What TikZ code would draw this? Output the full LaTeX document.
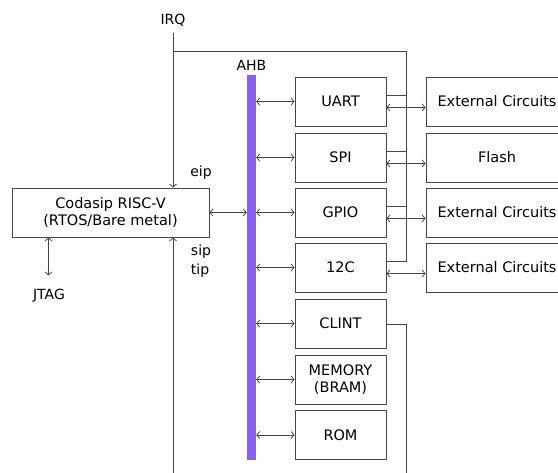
\documentclass[tikz,border=0pt]{standalone}
\usepackage{fontspec}
\setmainfont{DejaVu Sans}
\usetikzlibrary{arrows.meta}
\definecolor{busc}{RGB}{139,92,246}
\definecolor{linec}{RGB}{70,70,70}
\begin{document}
\begin{tikzpicture}[x=1pt,y=-1pt,
  box/.style={draw=linec,line width=0.8pt,minimum height=49pt,inner sep=0pt,align=center,font=\fontsize{14.5}{17.5}\selectfont},
  per/.style={box,minimum width=91pt},
  ext/.style={box,minimum width=142pt},
  lbl/.style={inner sep=0pt,font=\fontsize{14}{19}\selectfont},
  conn/.style={draw=linec,line width=0.8pt},
  dbl/.style={conn,{Straight Barb[length=3pt,width=7pt]}-{Straight Barb[length=3pt,width=7pt]}},
  one/.style={conn,-{Straight Barb[length=3pt,width=7pt]}}]
\useasboundingbox (0,0) rectangle (558,473);
\clip (0,0) rectangle (558,473);
% bus
\node[fill=busc,minimum width=9pt,minimum height=385pt,inner sep=0pt] (bus) at (251.5,267.5) {};
\node[lbl] (ahb) at (251.5,65) {AHB};
% CPU
\node[box,minimum width=197pt] (cpu) at (110.5,212.5) {Codasip RISC-V\\(RTOS/Bare metal)};
% peripherals
\node[per] (uart) at (340.5,101.5) {UART};
\node[per] (spi) at (340.5,157.5) {SPI};
\node[per] (gpio) at (340.5,212.5) {GPIO};
\node[per] (i2c) at (340.5,267.5) {12C};
\node[per] (clint) at (340.5,323.5) {CLINT};
\node[per] (mem) at (340.5,379.5) {MEMORY\\(BRAM)};
\node[per] (rom) at (340.5,435) {ROM};
% external
\node[ext] (e1) at (497,101.5) {External Circuits};
\node[ext] (e2) at (497,157.5) {Flash};
\node[ext] (e3) at (497,212.5) {External Circuits};
\node[ext] (e4) at (497,267.5) {External Circuits};
% labels
\node[lbl] (irq) at (173,20) {IRQ};
\node[lbl] (eip) at (201,173) {eip};
\node[lbl,align=left] (siptip) at (201,261) {sip\\tip};
\node[lbl] (jtag) at (49,296) {JTAG};
\coordinate (irqtop) at (173,33);
\coordinate (bottomL) at (173,473);
\coordinate (corner) at (406,51);
\coordinate (irqend) at (406,261);
\coordinate (clintend) at (406,473);
% IRQ lines
\draw[one] (irqtop) -- (irqtop |- cpu.north);
\draw[one] (bottomL) -- (bottomL |- cpu.south);
\draw[conn] (173,51) -- (corner) -- (irqend) -- (i2c.east |- irqend);
\foreach \n in {uart,spi,gpio}{
  \draw[conn] ([yshift=6pt]\n.east) -- ++(20,0);
}
\draw[conn] ([yshift=-0.5pt]clint.east) -| (clintend);
% cpu-bus
\draw[dbl] (cpu.east) -- (cpu.east -| bus.west);
\draw[dbl] ([xshift=-62pt]cpu.south) -- ++(0,38);
% bus-peripherals
\foreach \n in {uart,spi,gpio,i2c,clint,mem,rom}{
  \draw[dbl] (bus.east |- \n.west) -- (\n.west);
}
% peripheral-external
\foreach \a/\b in {uart/e1,spi/e2,gpio/e3,i2c/e4}{
  \draw[dbl] ([yshift=-6pt]\a.east) -- ([yshift=-6pt]\a.east -| \b.west);
}
\end{tikzpicture}
\end{document}
